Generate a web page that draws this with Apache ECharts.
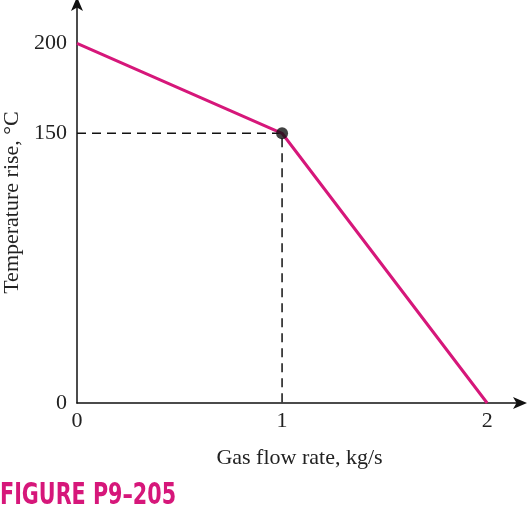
<!DOCTYPE html>
<html>
<head>
<meta charset="utf-8">
<script src="https://cdn.jsdelivr.net/npm/echarts@6.0.0/dist/echarts.min.js"></script>
<style>
  html, body { margin: 0; padding: 0; background: #fff; }
  #chart { width: 529px; height: 508px; }
</style>
</head>
<body>
<div id="chart"></div>
<script>
  var flowRate = [0, 1, 2];
  var tempRise = [200, 150, 0];
  var xTickLabels = ['0', '1', '2'];
  var yTickLabels = { 0: '0', 150: '150', 200: '200' };
  var kneeIndex = 1;

  var magenta = '#d6177a';
  var serif = '"Liberation Serif", "DejaVu Serif", serif';

  var chart = echarts.init(document.getElementById('chart'));
  var knee = [flowRate[kneeIndex], tempRise[kneeIndex]];

  chart.setOption({
    animation: false,
    grid: { left: 77, right: 7, top: 2, bottom: 105, outerBoundsMode: 'none', containLabel: false },
    xAxis: {
      type: 'value',
      min: 0,
      max: 2.17,
      interval: 1,
      name: 'Gas flow rate, kg/s',
      nameLocation: 'middle',
      nameGap: 44,
      nameTextStyle: { fontFamily: serif, fontSize: 22, color: '#222' },
      axisLine: { lineStyle: { color: '#111', width: 1.5 }, symbol: ['none', 'arrow'], symbolSize: [9, 14], symbolOffset: [0, 5] },
      axisTick: { show: false },
      splitLine: { show: false },
      axisLabel: {
        margin: 7,
        fontFamily: serif, fontSize: 22, color: '#222',
        formatter: function (v) { return xTickLabels[v] !== undefined ? xTickLabels[v] : ''; }
      }
    },
    yAxis: {
      type: 'value',
      min: 0,
      max: 223,
      interval: 50,
      name: 'Temperature rise, °C',
      nameLocation: 'middle',
      nameGap: 54,
      nameTextStyle: { fontFamily: serif, fontSize: 22, color: '#222' },
      axisLine: { lineStyle: { color: '#111', width: 1.5 }, symbol: ['none', 'arrow'], symbolSize: [9, 14], symbolOffset: [0, 5] },
      axisTick: { show: false },
      splitLine: { show: false },
      axisLabel: {
        margin: 10,
        fontFamily: serif, fontSize: 22, color: '#222',
        formatter: function (v) { return yTickLabels[v] || ''; }
      }
    },
    series: [
      {
        type: 'line',
        data: flowRate.map(function (x, i) { return [x, tempRise[i]]; }),
        showSymbol: false,
        lineStyle: { color: magenta, width: 3 },
        z: 3
      },
      {
        type: 'line',
        data: [[0, knee[1]], knee, [knee[0], 0]],
        showSymbol: false,
        lineStyle: { color: '#111', width: 1.5, type: [9, 6] },
        z: 2
      },
      {
        type: 'scatter',
        data: [knee],
        symbolSize: 12,
        itemStyle: { color: '#111' },
        z: 4
      }
    ],
    graphic: [
      {
        type: 'text',
        x: 0,
        y: 481,
        scaleX: 0.69,
        style: {
          text: 'FIGURE P9–205',
          fill: magenta,
          font: 'bold 30px "DejaVu Sans", sans-serif'
        }
      }
    ]
  });
</script>
</body>
</html>
